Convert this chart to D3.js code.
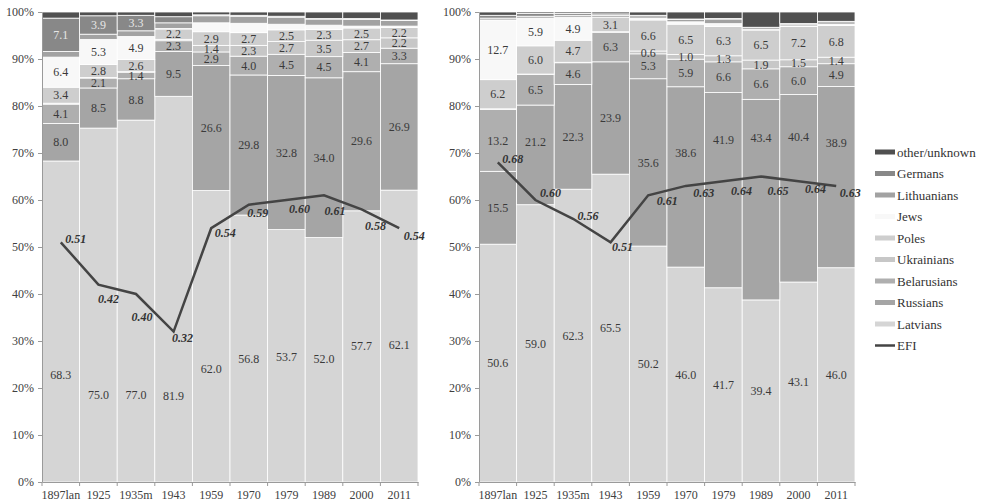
<!DOCTYPE html>
<html>
<head>
<meta charset="utf-8">
<script src="https://cdn.jsdelivr.net/npm/d3@7"></script>
<style>
  body { margin: 0; background: #fff; }
  svg text { font-family: "Liberation Serif", "Times New Roman", Times, serif; }
</style>
</head>
<body>
<svg id="chart" width="986" height="503"></svg>
<script>
// --- data ---
const years = ["1897lan", "1925", "1935m", "1943", "1959", "1970", "1979", "1989", "2000", "2011"];
const groups = ["Latvians", "Russians", "Belarusians", "Ukrainians", "Poles", "Jews", "Lithuanians", "Germans", "other/unknown"];

// left panel (% of population)
const leftLatvians    = [68.3, 75.0, 77.0, 81.9, 62.0, 56.8, 53.7, 52.0, 57.7, 62.1];
const leftRussians    = [8.0, 8.5, 8.8, 9.5, 26.6, 29.8, 32.8, 34.0, 29.6, 26.9];
const leftBelarusians = [4.1, 2.1, 1.4, 2.3, 2.9, 4.0, 4.5, 4.5, 4.1, 3.3];
const leftUkrainians  = [0.2, 0.1, 0.1, 0.3, 1.4, 2.3, 2.7, 3.5, 2.7, 2.2];
const leftPoles       = [3.4, 2.8, 2.6, 2.2, 2.9, 2.7, 2.5, 2.3, 2.5, 2.2];
const leftJews        = [6.4, 5.3, 4.9, 0.1, 1.9, 2.0, 1.2, 0.9, 0.4, 0.3];
const leftLithuanians = [1.2, 1.1, 1.2, 1.2, 1.5, 1.5, 1.5, 1.3, 1.4, 1.2];
const leftGermans     = [7.1, 3.9, 3.3, 1.3, 0.2, 0.2, 0.2, 0.1, 0.2, 0.1];
const leftOther       = [1.3, 0.8, 0.7, 1.0, 0.6, 0.7, 0.9, 1.4, 1.4, 1.7];
const leftEFI         = [0.51, 0.42, 0.40, 0.32, 0.54, 0.59, 0.60, 0.61, 0.58, 0.54];

// right panel (% of population)
const rightLatvians    = [50.6, 59.0, 62.3, 65.5, 50.2, 46.0, 41.7, 39.4, 43.1, 46.0];
const rightRussians    = [15.5, 21.2, 22.3, 23.9, 35.6, 38.6, 41.9, 43.4, 40.4, 38.9];
const rightBelarusians = [13.2, 6.5, 4.6, 6.3, 5.3, 5.9, 6.6, 6.6, 6.0, 4.9];
const rightUkrainians  = [0.1, 0.1, 0.1, 0.1, 0.6, 1.0, 1.3, 1.9, 1.5, 1.4];
const rightPoles       = [6.2, 6.0, 4.7, 3.1, 6.6, 6.5, 6.3, 6.5, 7.2, 6.8];
const rightJews        = [12.7, 5.9, 4.9, 0.0, 0.4, 0.5, 0.6, 0.1, 0.1, 0.3];
const rightLithuanians = [0.4, 0.4, 0.4, 0.4, 0.5, 0.5, 1.0, 0.4, 0.4, 0.5];
const rightGermans     = [0.6, 0.6, 0.4, 0.3, 0.1, 0.1, 0.1, 0.1, 0.1, 0.1];
const rightOther       = [0.7, 0.3, 0.3, 0.4, 0.7, 1.5, 1.4, 3.3, 2.5, 2.0];
const rightEFI         = [0.68, 0.60, 0.56, 0.51, 0.61, 0.63, 0.64, 0.65, 0.64, 0.63];

// --- look ---
const colors = ["#d5d5d5", "#a5a5a5", "#afafaf", "#c7c7c7", "#cecece", "#f8f8f8", "#a2a2a2", "#888888", "#505050"];
const labelMin = [0.5, 0.5, 0.5, 0.5, 0.5, 3, Infinity, 3, Infinity]; // smallest value that gets a label
// labels the original moved by hand (share of bar height, null = centred)
const leftLatLabelAt = [0.228, 0.185, 0.185, 0.183, 0.24, 0.262, 0.267, 0.262, 0.289, 0.291];
const rightRusLabelAt = [null, 0.724, null, null, null, 0.701, 0.728, 0.732, 0.735, 0.722];
const leftEfiDx = [15, 10, 6, 9, 14, 9, 13, 11, 14, 15];
const leftEfiDy = [1, 18, 27, 10, 9, 12, 13, 20, 21, 12];
const rightEfiDx = [15, 15, 15, 12, 19, 18, 18, 17, 17, 14];
const rightEfiDy = [1, -3, 1, 9, 10, 11, 14, 18, 12, 11];

const color = d3.scaleOrdinal().domain(groups).range(colors);
const svg = d3.select("#chart");
const y = d3.scaleLinear().domain([0, 1]).range([482, 12]);
const serif = '"Liberation Serif", "Times New Roman", Times, serif';

function drawPanel(x0, x1, series, efi, efiDx, efiDy, labelAt) {
    const rows = years.map((yr, i) => {
        const r = { year: yr };
        groups.forEach((k, j) => r[k] = series[j][i]);
        return r;
    });
    const x = d3.scaleBand().domain(years).range([x0, x1]).padding(0);
    const stacked = d3.stack().keys(groups).offset(d3.stackOffsetExpand)(rows);
    const g = svg.append("g");

    // bars
    const layer = g.selectAll(".layer")
        .data(stacked)
        .enter().append("g")
        .attr("class", "layer")
        .attr("fill", d => color(d.key));

    layer.selectAll("rect")
        .data(d => d)
        .enter().append("rect")
        .attr("x", d => x(d.data.year))
        .attr("width", x.bandwidth())
        .attr("y", d => y(d[1]))
        .attr("height", d => y(d[0]) - y(d[1]))
        .attr("stroke", "#fff")
        .attr("stroke-width", 0.8);

    // value labels
    stacked.forEach((s, j) => {
        const key = s.key;
        const moved = labelAt[key];
        g.append("g").selectAll("text")
            .data(s.filter(d => d.data[key] >= labelMin[j]))
            .enter().append("text")
            .attr("x", d => x(d.data.year) + x.bandwidth() / 2)
            .attr("y", d => {
                const i = years.indexOf(d.data.year);
                if (moved && moved[i] != null) return y(moved[i]);
                return y((d[0] + d[1]) / 2);
            })
            .attr("dy", "0.35em")
            .attr("text-anchor", "middle")
            .attr("font-size", 12)
            .attr("fill", key === "Germans" ? "#e6e6e6" : "#3a3a3a")
            .text(d => d3.format(".1f")(d.data[key]));
    });

    // y axis
    const yAxis = g.append("g")
        .attr("transform", `translate(${x0},0)`)
        .call(d3.axisLeft(y)
            .tickValues(d3.range(0, 11).map(v => v / 10))
            .tickFormat(d3.format(".0%"))
            .tickSize(4).tickSizeOuter(0).tickPadding(4));
    yAxis.selectAll("path, line").attr("stroke", "#9a9a9a");
    yAxis.selectAll("text").attr("font-size", 12).attr("fill", "#404040").style("font-family", serif);

    // x axis, ticks sit on the bar edges
    const xAxis = g.append("g")
        .attr("transform", `translate(0,${y(0)})`)
        .call(d3.axisBottom(x).tickSize(0).tickSizeOuter(0).tickPadding(8));
    xAxis.select(".domain").attr("stroke", "#9a9a9a");
    xAxis.selectAll("text").attr("font-size", 12).attr("fill", "#404040").style("font-family", serif);
    xAxis.selectAll(".edge")
        .data(years.map(yr => x(yr)).concat([x.range()[1]]))
        .enter().append("line")
        .attr("x1", d => d).attr("x2", d => d)
        .attr("y1", 0).attr("y2", 4)
        .attr("stroke", "#9a9a9a");

    // EFI line
    const cx = yr => x(yr) + x.bandwidth() / 2;
    g.append("path")
        .datum(efi)
        .attr("fill", "none")
        .attr("stroke", "#444")
        .attr("stroke-width", 2.5)
        .attr("d", d3.line().x((d, i) => cx(years[i])).y(d => y(d)));

    g.append("g").selectAll("text")
        .data(efi)
        .enter().append("text")
        .attr("x", (d, i) => cx(years[i]) + efiDx[i])
        .attr("y", (d, i) => y(d) + efiDy[i])
        .attr("text-anchor", "middle")
        .attr("font-size", 12)
        .attr("font-weight", "bold")
        .attr("font-style", "italic")
        .attr("fill", "#333")
        .text(d => d3.format(".2f")(d));
}

drawPanel(42, 418,
    [leftLatvians, leftRussians, leftBelarusians, leftUkrainians, leftPoles, leftJews, leftLithuanians, leftGermans, leftOther],
    leftEFI, leftEfiDx, leftEfiDy, { Latvians: leftLatLabelAt });
drawPanel(479, 855,
    [rightLatvians, rightRussians, rightBelarusians, rightUkrainians, rightPoles, rightJews, rightLithuanians, rightGermans, rightOther],
    rightEFI, rightEfiDx, rightEfiDy, { Russians: rightRusLabelAt });

// legend
const legendItems = groups.slice().reverse().concat(["EFI"]);
const legend = svg.append("g").attr("transform", "translate(875,152)");
const item = legend.selectAll("g")
    .data(legendItems)
    .enter().append("g")
    .attr("transform", (d, i) => `translate(0,${i * 21.5})`);

item.filter(d => d !== "EFI").append("rect")
    .attr("x", 0).attr("y", -2.5)
    .attr("width", 20).attr("height", 5)
    .attr("fill", d => color(d));
item.filter(d => d === "EFI").append("line")
    .attr("x1", 0).attr("x2", 20)
    .attr("stroke", "#444").attr("stroke-width", 2.5);
item.append("text")
    .attr("x", 22).attr("dy", "0.35em")
    .attr("font-size", 13)
    .attr("fill", "#333")
    .text(d => d);
</script>
</body>
</html>
